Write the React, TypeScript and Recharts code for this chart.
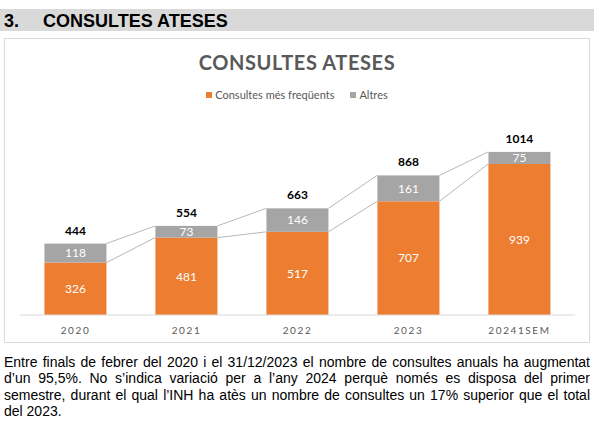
import { Bar, BarChart, LabelList, XAxis, YAxis } from "recharts";

const categories = ["2020", "2021", "2022", "2023", "20241SEM"];
const frequentValues = [326, 481, 517, 707, 939];
const otherValues = [118, 73, 146, 161, 75];
const totalValues = [444, 554, 663, 868, 1014];

const paragraphLines = [
  "Entre finals de febrer del 2020 i el 31/12/2023 el nombre de consultes anuals ha augmentat",
  "d’un 95,5%. No s’indica variació per a l’any 2024 perquè només es disposa del primer",
  "semestre, durant el qual l’INH ha atès un nombre de consultes un 17% superior que el total",
  "del 2023.",
];

const ORANGE = "#ED7D31";
const GRAY = "#A5A5A5";
const TEXT_GRAY = "#595959";
const GAP = 0.22;

const chartData = categories.map((year, i) => ({
  year,
  frequent: frequentValues[i],
  others: otherValues[i],
  total: totalValues[i],
}));

// draws the bar plus the thin connector to the next bar's top edge
const connectedShape = (kind: "frequent" | "total") => (props: any) => {
  const { x, y, width, height, index, fill } = props;
  const row = chartData[index];
  const next = chartData[index + 1];
  let connector = null;
  if (next) {
    const own = kind === "frequent" ? row.frequent : row.others;
    const k = height / own;
    const base = kind === "frequent" ? y + height : y + height + row.frequent * k;
    const yNext = base - next[kind] * k;
    const xNext = x + width / (1 - 2 * GAP);
    connector = (
      <line x1={x + width} y1={y} x2={xNext} y2={yNext} stroke={GRAY} strokeWidth={0.8} />
    );
  }
  return (
    <g>
      <rect x={x} y={y} width={width} height={height} fill={fill} />
      {connector}
    </g>
  );
};

const YearTick = ({ x, y, payload }: any) => (
  <text
    x={x}
    y={y + 15}
    textAnchor="middle"
    dominantBaseline="central"
    fontSize={10}
    letterSpacing={1.6}
    fill={TEXT_GRAY}
    fontFamily="Lato"
  >
    {payload.value}
  </text>
);

export default function App() {
  return (
    <div
      style={{
        position: "absolute",
        left: 0,
        top: 0,
        width: 594,
        height: 421,
        background: "#fff",
        overflow: "hidden",
      }}
    >
      <div
        style={{
          position: "absolute",
          left: 0,
          top: 9,
          width: 594,
          height: 22,
          background: "#D9D9D9",
          fontFamily: "'Liberation Sans', Arial, sans-serif",
          fontWeight: 700,
          fontSize: 18,
          lineHeight: "22px",
          color: "#000",
        }}
      >
        <span style={{ position: "absolute", left: 4, top: 1 }}>3.</span>
        <span style={{ position: "absolute", left: 43, top: 1 }}>CONSULTES ATESES</span>
      </div>

      <div
        style={{
          position: "absolute",
          left: 4,
          top: 38,
          width: 586,
          height: 305,
          boxSizing: "border-box",
          border: "1px solid #D9D9D9",
          fontFamily: "Lato, sans-serif",
        }}
      >
        <div
          style={{
            position: "absolute",
            left: 0,
            top: 10,
            width: 584,
            textAlign: "center",
            fontSize: 20,
            fontWeight: 700,
            letterSpacing: 0.6,
            color: TEXT_GRAY,
            lineHeight: "26px",
          }}
        >
          CONSULTES ATESES
        </div>
        <div
          style={{
            position: "absolute",
            left: 0,
            top: 49,
            width: 584,
            display: "flex",
            justifyContent: "center",
            alignItems: "center",
            fontSize: 11,
            color: TEXT_GRAY,
            lineHeight: "14px",
          }}
        >
          <span style={{ width: 6, height: 6, background: ORANGE, marginRight: 3 }} />
          <span>Consultes més freqüents</span>
          <span style={{ width: 6, height: 6, background: GRAY, marginLeft: 16, marginRight: 3 }} />
          <span>Altres</span>
        </div>
        <div style={{ position: "absolute", left: 0, top: 0 }}>
          <BarChart
            width={584}
            height={303}
            data={chartData}
            barCategoryGap={`${GAP * 100}%`}
            margin={{ top: 83, right: 14, bottom: 7, left: 15 }}
          >
            <XAxis
              dataKey="year"
              axisLine={{ stroke: "#D9D9D9" }}
              tickLine={false}
              tickSize={0}
              tickMargin={0}
              height={20}
              tick={<YearTick />}
              interval={0}
            />
            <YAxis hide domain={[0, 1200]} />
            <Bar
              dataKey="frequent"
              stackId="a"
              fill={ORANGE}
              shape={connectedShape("frequent")}
              isAnimationActive={false}
            >
              <LabelList
                dataKey="frequent"
                position="center"
                fill="#fff"
                fontSize={12}
                fontFamily="Lato"
              />
            </Bar>
            <Bar
              dataKey="others"
              stackId="a"
              fill={GRAY}
              shape={connectedShape("total")}
              isAnimationActive={false}
            >
              <LabelList
                dataKey="others"
                position="center"
                fill="#fff"
                fontSize={12}
                fontFamily="Lato"
              />
              <LabelList
                dataKey="total"
                position="top"
                offset={9}
                fill="#000"
                fontSize={12}
                fontWeight={700}
                fontFamily="Lato"
              />
            </Bar>
          </BarChart>
        </div>
      </div>

      <div
        style={{
          position: "absolute",
          left: 4,
          top: 353.5,
          width: 586,
          fontFamily: "'Liberation Sans', Arial, sans-serif",
          fontSize: 14,
          lineHeight: "16.5px",
          color: "#000",
        }}
      >
        {paragraphLines.map((line, i) => (
          <div
            key={i}
            style={{
              whiteSpace: "nowrap",
              textAlign: i < paragraphLines.length - 1 ? "justify" : "left",
              textAlignLast: i < paragraphLines.length - 1 ? "justify" : "left",
            }}
          >
            {line}
          </div>
        ))}
      </div>
    </div>
  );
}
